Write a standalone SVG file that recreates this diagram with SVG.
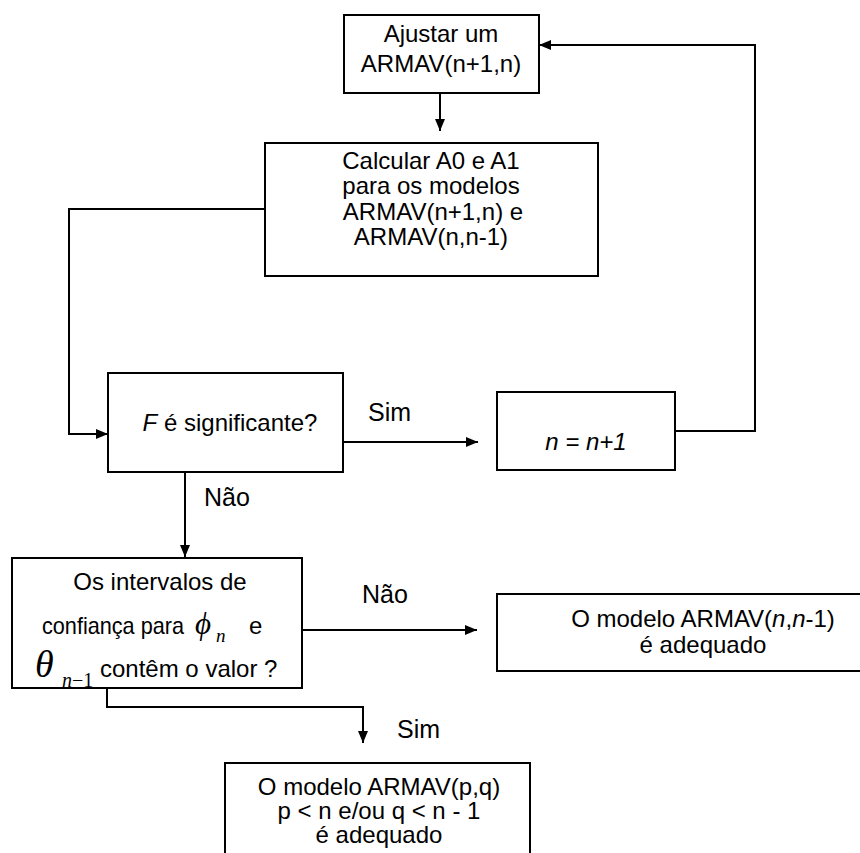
<svg xmlns="http://www.w3.org/2000/svg" width="860" height="853" viewBox="0 0 860 853">
<style>
.box{fill:#fff;stroke:#000;stroke-width:2}
.t{font-family:"Liberation Sans",Arial,sans-serif;font-size:24px;fill:#000}
.l{font-family:"Liberation Sans",Arial,sans-serif;font-size:25px;fill:#000}
.m{font-family:"Liberation Serif","Times New Roman",serif;font-style:italic;fill:#000}
.c{fill:none;stroke:#000;stroke-width:2}
</style>
<defs>
<marker id="ah" viewBox="0 0 12 10" refX="12" refY="5" markerWidth="12" markerHeight="10" markerUnits="userSpaceOnUse" orient="auto">
<path d="M0,0 L12,5 L0,10 Z" fill="#000"/>
</marker>
</defs>
<rect width="860" height="853" fill="#fff"/>
<g id="connectors">
<path class="c" d="M440,93 V131" marker-end="url(#ah)"/>
<path class="c" d="M265,209 H69 V434 H108" marker-end="url(#ah)"/>
<path class="c" d="M343,442 H478" marker-end="url(#ah)"/>
<path class="c" d="M675,431 H755 V45 H539" marker-end="url(#ah)"/>
<path class="c" d="M185,472 V557" marker-end="url(#ah)"/>
<path class="c" d="M302,630 H477" marker-end="url(#ah)"/>
<path class="c" d="M107,688 V707 H363 V743" marker-end="url(#ah)"/>
<text class="l" x="368" y="421">Sim</text>
<text class="l" x="204" y="506">Não</text>
<text class="l" x="362" y="603">Não</text>
<text class="l" x="397" y="738">Sim</text>
</g>
<g id="n1">
<rect class="box" x="344" y="15" width="195" height="78"/>
<text class="t" x="441" y="42" text-anchor="middle" font-size="24.5">Ajustar um</text>
<text class="t" x="441" y="72" text-anchor="middle" font-size="24.5">ARMAV(n+1,n)</text>
</g>
<g id="n2">
<rect class="box" x="265" y="143" width="333" height="133"/>
<text class="t" x="431" y="169" text-anchor="middle">Calcular A0 e A1</text>
<text class="t" x="431" y="194" text-anchor="middle">para os modelos</text>
<text class="t" x="433" y="220" text-anchor="middle">ARMAV(n+1,n) e</text>
<text class="t" x="431" y="245" text-anchor="middle">ARMAV(n,n-1)</text>
</g>
<g id="n3">
<rect class="box" x="108" y="373" width="235" height="99"/>
<text class="t" x="230" y="431" text-anchor="middle" font-size="23"><tspan font-style="italic">F</tspan> é significante?</text>
</g>
<g id="n4">
<rect class="box" x="497" y="392" width="178" height="78"/>
<text class="t" x="586" y="450" text-anchor="middle" font-size="23" font-style="italic">n = n+1</text>
</g>
<g id="n5">
<rect class="box" x="12" y="558" width="290" height="130"/>
<text class="t" x="160" y="590" text-anchor="middle" font-size="23.5">Os intervalos de</text>
<text class="t" x="42" y="634" textLength="142" lengthAdjust="spacingAndGlyphs">confiança para</text>
<text class="m" x="195" y="634" font-size="31">ϕ</text>
<text class="m" x="216" y="642" font-size="19">n</text>
<text class="t" x="249" y="634">e</text>
<text class="m" x="35" y="677" font-size="38">θ</text>
<text class="m" x="62" y="687" font-size="20">n<tspan font-style="normal">−1</tspan></text>
<text class="t" x="100" y="677">contêm o valor ?</text>
</g>
<g id="n6">
<rect class="box" x="497" y="594" width="370" height="77"/>
<text class="t" x="703" y="627" text-anchor="middle" font-size="22">O modelo ARMAV(<tspan font-style="italic">n</tspan>,<tspan font-style="italic">n</tspan>-1)</text>
<text class="t" x="703" y="653" text-anchor="middle" font-size="22">é adequado</text>
</g>
<g id="n7">
<rect class="box" x="225" y="763" width="305" height="100"/>
<text class="t" x="379" y="795" text-anchor="middle">O modelo ARMAV(p,q)</text>
<text class="t" x="379" y="819" text-anchor="middle">p &lt; n e/ou q &lt; n - 1</text>
<text class="t" x="379" y="843" text-anchor="middle">é adequado</text>
</g>
</svg>
